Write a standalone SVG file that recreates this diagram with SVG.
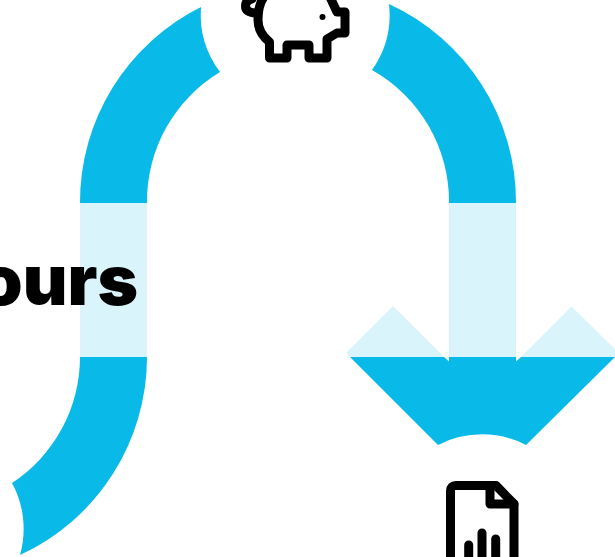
<svg xmlns="http://www.w3.org/2000/svg" width="615" height="557" viewBox="0 0 615 557">
<style>
.dark{fill:#09b9e8}
.light{fill:#d9f4fb}
.icon{fill:none;stroke:#000;stroke-width:9;stroke-linejoin:round;stroke-linecap:round}
.label{font-family:"Inter","Liberation Sans",sans-serif;font-weight:900;font-size:69px;fill:#000}
</style>
<rect width="615" height="557" fill="#fff"/>
<g id="connectors">
<path class="dark" d="M20,555 A218,218 0 0 0 147,357 L80,357 A151,151 0 0 1 12,483 A96,96 0 0 1 20,555 Z"/>
<rect class="light" x="80" y="203" width="67" height="154"/>
<path class="dark" d="M80,203 A218,218 0 0 1 201,7 A96,96 0 0 0 220,72 A151,151 0 0 0 147,203 Z"/>
<path class="dark" d="M516,203 A218,218 0 0 0 389,4 A96,96 0 0 1 372,70 A151,151 0 0 1 449,203 Z"/>
<rect class="light" x="449" y="203" width="67" height="154"/>
<polygon class="light" points="346,353 393,306 444,357 350,357"/>
<polygon class="light" points="619,353 571.500,306.500 521,357 615,357"/>
<path class="dark" d="M350,357 L444,357 L449,361.500 L449,357 L516,357 L516,361.500 L521,357 L615,357 L526,445 A96,96 0 0 0 438,445 Z"/>
</g>
<g id="label-hours"><text class="label" x="138" y="305" text-anchor="end">ours</text></g>
<g id="node-piggy">
<path class="icon" d="M270,-9 C261,-3 258,8 258,20 C258,29 262,36 269.500,42 L269.500,58 L287,58 L287,45 L309,45 L309,58 L327,58 L327,39 L337,33 L345,33 L345,12 L337,12 L329,-5"/>
<path class="icon" stroke-width="7" d="M258,13 C250,13 245.500,11 245.500,6 C245.500,2 248,0 252,-1"/>
<circle cx="322.500" cy="17" r="3" fill="#000"/>
</g>
<g id="node-report">
<path class="icon" d="M450.500,562 L450.500,491 Q450.500,485.500 456,485.500 L496,485.500 L514,504 L514,562"/>
<path class="icon" d="M490,486 L490,504 L514,504"/>
<path class="icon" d="M468.700,545 L468.700,562 M482,533 L482,562 M495.700,539 L495.700,562"/>
</g>
</svg>
